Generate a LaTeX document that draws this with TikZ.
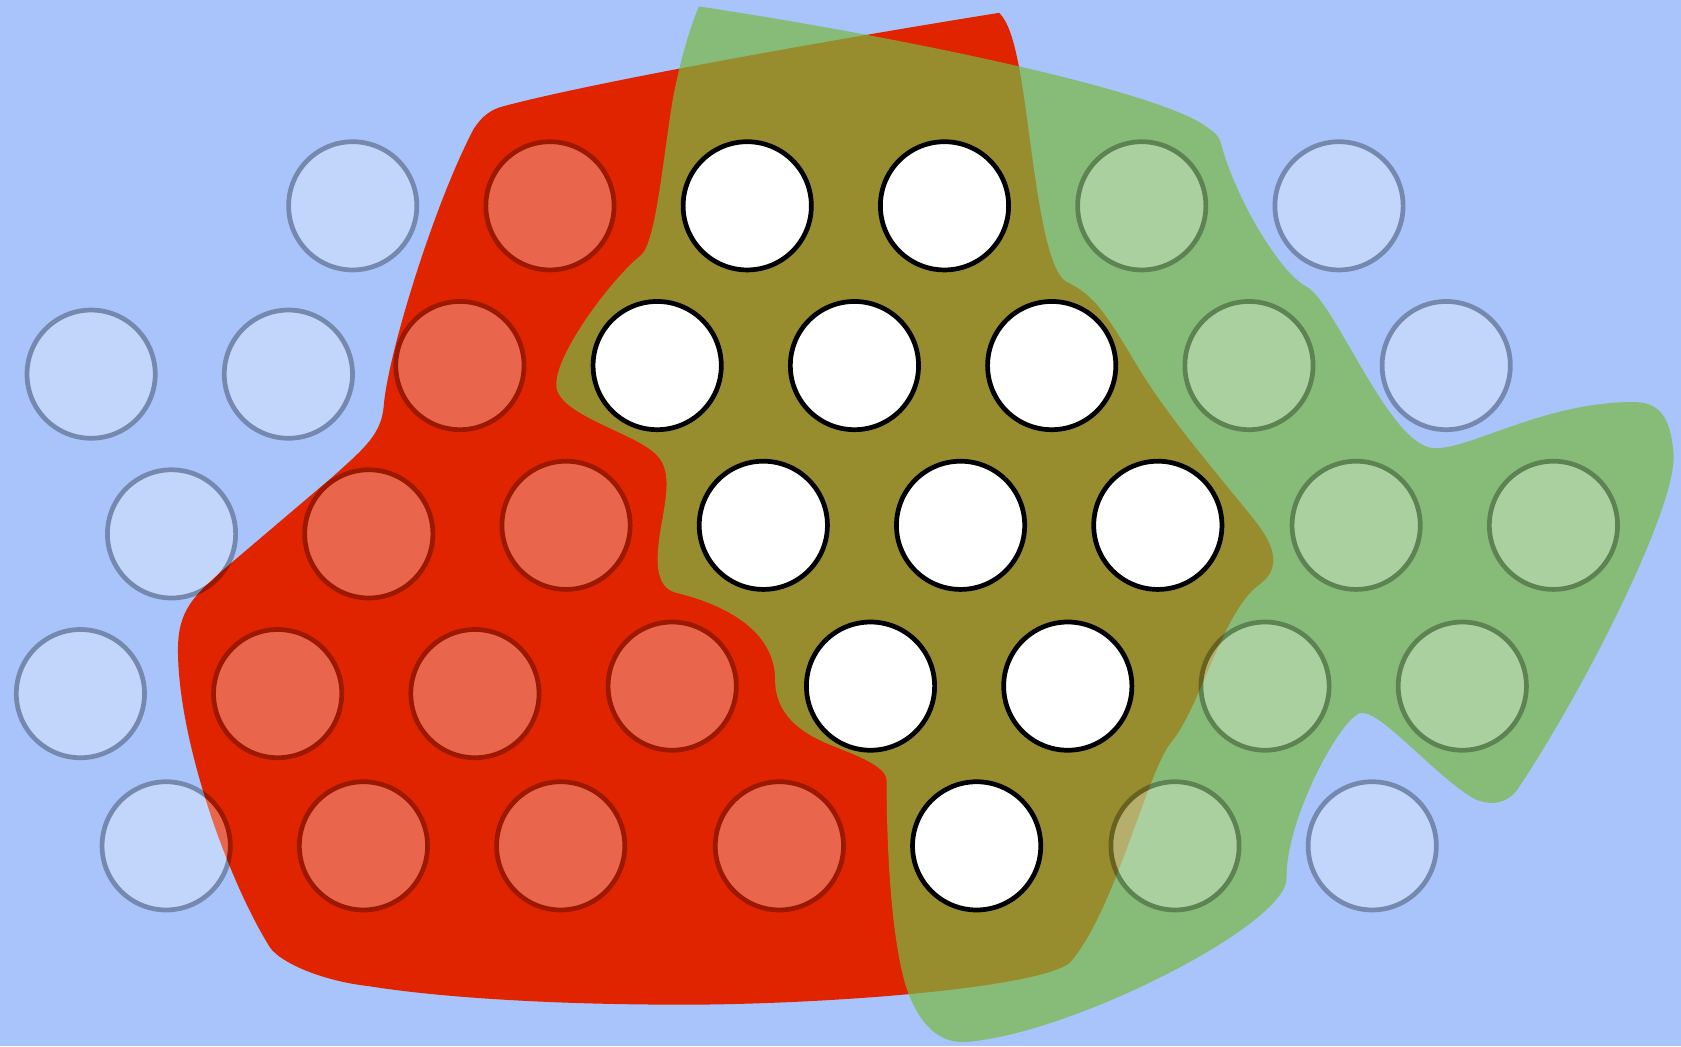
\documentclass[tikz,border=0pt]{standalone}
\begin{document}
\begin{tikzpicture}[x=1pt,y=-1pt,
  ghost/.style={circle,minimum size=119.6pt,inner sep=0pt,line width=4.4pt,fill=white,draw=black},
  solid/.style={circle,minimum size=119.6pt,inner sep=0pt,line width=4.4pt,fill=white,draw=black}]
\definecolor{bgblue}{RGB}{168,196,250}
\definecolor{redblob}{RGB}{224,36,0}
\definecolor{greenblob}{RGB}{121,185,66}
\fill[bgblue] (0,0) rectangle (1568,976);
\useasboundingbox (0,0) rectangle (1568,976);
% red blob
\fill[redblob] (932,12) .. controls (800,33) and (560,75) .. (470,99)
  .. controls (458,102) and (450,108) .. (442,120)
  .. controls (405,190) and (362,330) .. (358,378)
  .. controls (356,405) and (340,418) .. (310,445)
  -- (210,530)
  .. controls (180,556) and (166,570) .. (166,606)
  .. controls (166,690) and (212,820) .. (252,884)
  .. controls (262,898) and (300,915) .. (345,920)
  .. controls (420,932) and (540,938) .. (660,937)
  .. controls (800,935) and (970,920) .. (998,898)
  .. controls (1040,850) and (1070,720) .. (1092,693)
  .. controls (1120,660) and (1140,570) .. (1175,545)
  .. controls (1195,530) and (1190,510) .. (1170,485)
  .. controls (1130,435) and (1090,390) .. (1060,340)
  .. controls (1030,290) and (1020,275) .. (995,263)
  .. controls (970,250) and (962,120) .. (950,60)
  .. controls (945,35) and (940,20) .. (932,12) -- cycle;
% green blob
\fill[greenblob,fill opacity=0.7] (652,6)
  .. controls (850,36) and (1080,85) .. (1125,118)
  .. controls (1135,125) and (1138,128) .. (1140,138)
  .. controls (1155,190) and (1195,255) .. (1218,267)
  .. controls (1245,280) and (1295,415) .. (1337,418)
  .. controls (1370,420) and (1440,375) .. (1523,375)
  .. controls (1545,375) and (1558,385) .. (1561,423)
  .. controls (1565,470) and (1480,640) .. (1415,737)
  .. controls (1405,750) and (1390,752) .. (1375,745)
  .. controls (1340,725) and (1290,665) .. (1271,665)
  .. controls (1255,662) and (1200,760) .. (1200,818)
  .. controls (1205,860) and (1000,965) .. (900,972)
  .. controls (872,973) and (855,950) .. (845,920)
  .. controls (830,870) and (827,780) .. (827,728)
  .. controls (827,715) and (800,705) .. (775,695)
  .. controls (745,683) and (723,665) .. (723,634)
  .. controls (723,590) and (680,565) .. (631,553)
  .. controls (610,548) and (612,520) .. (616,495)
  .. controls (620,470) and (628,440) .. (613,425)
  .. controls (595,405) and (530,390) .. (520,365)
  .. controls (510,340) and (570,260) .. (598,238)
  .. controls (612,225) and (618,150) .. (628,90)
  .. controls (636,50) and (645,22) .. (652,6) -- cycle;
\begin{scope}[transparency group,opacity=0.3]
% blue circles
\node[ghost] (b1) at (329,192) {};
\node[ghost] (b2) at (1249,192) {};
\node[ghost] (b3) at (85,349) {};
\node[ghost] (b4) at (269,349) {};
\node[ghost] (b5) at (1349,341) {};
\node[ghost] (b6) at (160,498) {};
\node[ghost] (b7) at (75,647) {};
\node[ghost] (b8) at (155,789) {};
\node[ghost] (b9) at (1280,789) {};
% red circles
\node[ghost] (r1) at (513,192) {};
\node[ghost] (r2) at (429,341) {};
\node[ghost] (r3) at (344,498) {};
\node[ghost] (r4) at (528,490) {};
\node[ghost] (r5) at (259,647) {};
\node[ghost] (r6) at (443,647) {};
\node[ghost] (r7) at (627,640) {};
\node[ghost] (r8) at (339,789) {};
\node[ghost] (r9) at (523,789) {};
\node[ghost] (r10) at (727,789) {};
% green circles
\node[ghost] (g1) at (1065,192) {};
\node[ghost] (g2) at (1165,341) {};
\node[ghost] (g3) at (1265,490) {};
\node[ghost] (g4) at (1449,490) {};
\node[ghost] (g5) at (1180,640) {};
\node[ghost] (g6) at (1364,640) {};
\node[ghost] (g7) at (1096,789) {};
\end{scope}
% white circles
\node[solid] (w1) at (697,192) {};
\node[solid] (w2) at (881,192) {};
\node[solid] (w3) at (613,341) {};
\node[solid] (w4) at (797,341) {};
\node[solid] (w5) at (981,341) {};
\node[solid] (w6) at (712,490) {};
\node[solid] (w7) at (896,490) {};
\node[solid] (w8) at (1080,490) {};
\node[solid] (w9) at (812,640) {};
\node[solid] (w10) at (996,640) {};
\node[solid] (w11) at (911,789) {};
\end{tikzpicture}
\end{document}
